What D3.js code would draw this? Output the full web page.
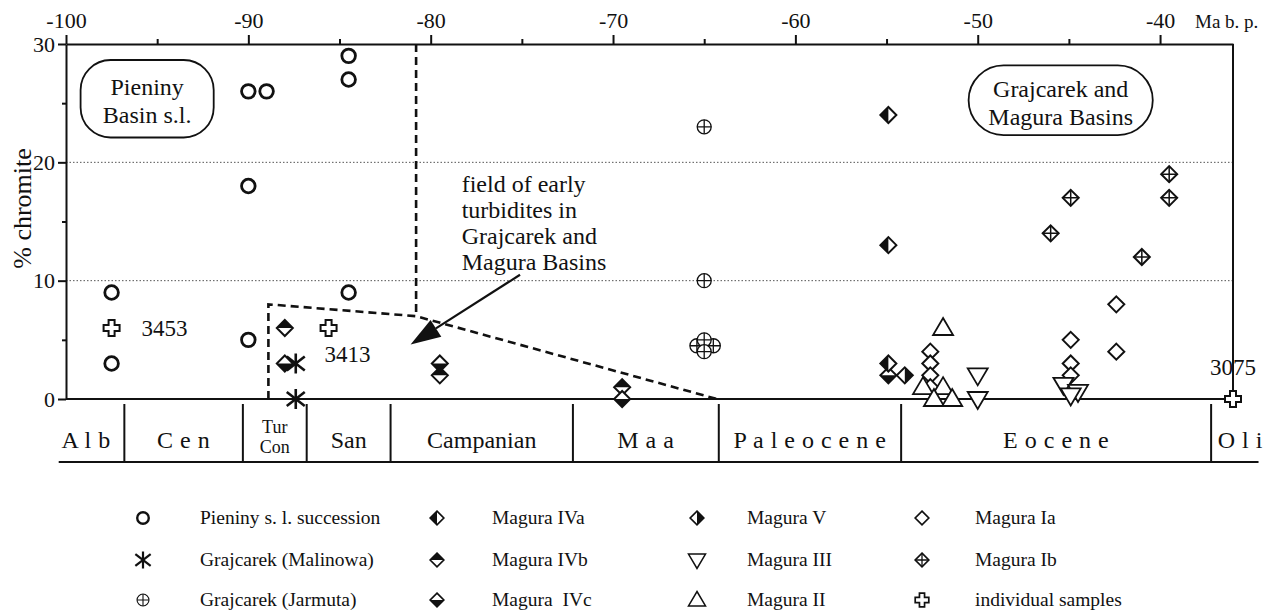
<!DOCTYPE html>
<html>
<head>
<meta charset="utf-8">
<script src="https://cdn.jsdelivr.net/npm/d3@7"></script>
<style>
body { margin: 0; background: #fff; }
text { font-family: "Liberation Serif", "Times New Roman", serif; fill: #111; }
</style>
</head>
<body>
<svg id="chart"></svg>
<script>
// ages in Ma (negative = before present), values in % chromite
var pieniny = [[-97.5, 9], [-97.5, 3], [-90, 26], [-89, 26], [-90, 18], [-90, 5],
	[-84.5, 29], [-84.5, 27], [-84.5, 9]];
var malinowa = [[-87.4, 3], [-87.4, 0]];
var jarmuta = [[-65, 23], [-65, 10], [-65.4, 4.5], [-64.5, 4.5], [-65, 5], [-65, 4]];
var maguraIVa = [[-54.9, 24], [-54.9, 13], [-54.9, 3]];
var maguraIVb = [[-88, 6], [-79.5, 2], [-69.5, 1]];
var maguraIVc = [[-88, 3], [-79.5, 3], [-69.5, 0], [-54.9, 2]];
var maguraV = [[-54, 2]];
var maguraIII = [[-50, 2], [-50, 0], [-45.3, 1.2], [-44.5, 0.6], [-44.9, 0.3]];
var maguraII = [[-51.9, 6], [-53, 1], [-51.9, 1], [-52.4, 0], [-51.4, 0]];
var maguraIa = [[-52.6, 4], [-52.6, 3], [-52.6, 2], [-52.6, 1], [-42.4, 8], [-42.4, 4],
	[-44.9, 5], [-44.9, 3], [-44.9, 2]];
var maguraIb = [[-44.9, 17], [-46, 14], [-41, 12], [-39.5, 19], [-39.5, 17]];
var individual = [[-97.5, 6, '3453'], [-85.6, 6, '3413'], [-36, 0, '3075']];

var xTicks = [-100, -90, -80, -70, -60, -50, -40];
var xMinor = [-95, -85, -75, -65, -55, -45];
var yTicks = [0, 10, 20, 30];
var yMinor = [5, 15, 25];
var gridValues = [10, 20];

var stageNames = ['A l b', 'C e n', 'Tur|Con', 'San', 'Campanian', 'M a a', 'P a l e o c e n e', 'E o c e n e', 'O l i'];
var stageBounds = [-101, -96.8, -90.3, -86.8, -82.2, -72.2, -64.2, -54.2, -37.2, -34];

// field of early turbidites outline
var fieldLine = [[-88.9, 0], [-88.9, 8], [-80.8, 7], [-64.3, 0]];
var fieldEdge = [[-80.8, 30], [-80.8, 7]];

var dims = {
	width: 1275,
	height: 613,
	left: 66,
	right: 1233,
	top: 44,
	bottom: 399
};

var svg = d3.select('#chart').attr('width', dims.width).attr('height', dims.height);

var x = d3.scaleLinear().domain([-100, -36]).range([dims.left, dims.right]);
var y = d3.scaleLinear().domain([0, 30]).range([dims.bottom, dims.top]);

// gridlines
svg.append('g').selectAll('line').data(gridValues).enter().append('line')
	.attr('x1', dims.left).attr('x2', dims.right)
	.attr('y1', d => y(d)).attr('y2', d => y(d))
	.attr('stroke', '#555').attr('stroke-width', 1).attr('stroke-dasharray', '1.5,2');

// top axis
var topAxis = svg.append('g').attr('transform', 'translate(0 ' + dims.top + ')')
	.call(d3.axisTop(x).tickValues(xTicks).tickSize(9).tickSizeOuter(0).tickFormat(d => String(d)));
svg.append('g').attr('transform', 'translate(0 ' + dims.top + ')')
	.call(d3.axisTop(x).tickValues(xMinor).tickSize(5).tickFormat(''))
	.select('.domain').remove();
topAxis.selectAll('text').attr('font-size', 22).attr('font-family', 'Liberation Serif').attr('fill', '#111').attr('dy', '-0.2em');
svg.append('text').attr('x', 1195).attr('y', 28).attr('font-size', 19).text('Ma b. p.');

// left axis
var leftAxis = svg.append('g').attr('transform', 'translate(' + dims.left + ' 0)')
	.call(d3.axisLeft(y).tickValues(yTicks).tickSize(8).tickSizeOuter(0));
svg.append('g').attr('transform', 'translate(' + dims.left + ' 0)')
	.call(d3.axisLeft(y).tickValues(yMinor).tickSize(4).tickFormat(''))
	.select('.domain').remove();
leftAxis.selectAll('text').attr('font-size', 22).attr('font-family', 'Liberation Serif').attr('fill', '#111');
svg.selectAll('.domain, .tick line').attr('stroke', '#111').attr('stroke-width', 2);

svg.append('text')
	.attr('transform', 'translate(31 ' + y(16.1) + ') rotate(-90)')
	.attr('text-anchor', 'middle').attr('font-size', 26).text('% chromite');

// right border and zero line
svg.append('line').attr('x1', dims.right).attr('x2', dims.right).attr('y1', dims.top).attr('y2', dims.bottom)
	.attr('stroke', '#111').attr('stroke-width', 2);
svg.append('line').attr('x1', dims.left).attr('x2', dims.right).attr('y1', y(0)).attr('y2', y(0))
	.attr('stroke', '#111').attr('stroke-width', 2);

// stage bar
var stageTop = dims.bottom + 5, stageBottom = dims.bottom + 63;
var stages = svg.append('g');
stages.selectAll('line.div').data(stageBounds.slice(1, -1)).enter().append('line')
	.attr('x1', d => x(d)).attr('x2', d => x(d))
	.attr('y1', stageTop).attr('y2', stageBottom)
	.attr('stroke', '#111').attr('stroke-width', 2);
stages.append('line').attr('x1', x(-100.4)).attr('x2', x(-34.6))
	.attr('y1', stageBottom).attr('y2', stageBottom)
	.attr('stroke', '#111').attr('stroke-width', 2);
stageNames.forEach(function(n, i) {
	var cx = x((stageBounds[i] + stageBounds[i + 1]) / 2);
	if (n.indexOf('|') >= 0) {
		n.split('|').forEach(function(part, j) {
			stages.append('text').attr('x', cx).attr('y', stageTop + 29 + j * 20)
				.attr('text-anchor', 'middle').attr('font-size', 18).text(part);
		});
	} else {
		stages.append('text').attr('x', cx).attr('y', stageTop + 44)
			.attr('text-anchor', 'middle').attr('font-size', 24)
			.attr('letter-spacing', n.indexOf(' ') >= 0 ? 0.5 : 0).text(n);
	}
});

// field of early turbidites
var line = d3.line().x(d => x(d[0])).y(d => y(d[1]));
[fieldLine, fieldEdge].forEach(function(l) {
	svg.append('path').attr('d', line(l)).attr('fill', 'none')
		.attr('stroke', '#111').attr('stroke-width', 2.6).attr('stroke-dasharray', '8,5');
});

// arrow
var arrowFrom = [x(-75.1), y(10.5)], arrowTo = [x(-81.1), y(4.6)];
var ang = Math.atan2(arrowTo[1] - arrowFrom[1], arrowTo[0] - arrowFrom[0]);
var headLen = 30, headW = 10;
var base = [arrowTo[0] - headLen * Math.cos(ang), arrowTo[1] - headLen * Math.sin(ang)];
svg.append('line').attr('x1', arrowFrom[0]).attr('y1', arrowFrom[1]).attr('x2', base[0]).attr('y2', base[1])
	.attr('stroke', '#111').attr('stroke-width', 2.2);
svg.append('path').attr('fill', '#111').attr('d', 'M' + arrowTo + 'L' +
	[base[0] + headW * Math.sin(ang), base[1] - headW * Math.cos(ang)] + 'L' +
	[base[0] - headW * Math.sin(ang), base[1] + headW * Math.cos(ang)] + 'Z');

var fieldText = ['field of early', 'turbidites in', 'Grajcarek and', 'Magura Basins'];
svg.append('g').selectAll('text').data(fieldText).enter().append('text')
	.attr('x', x(-78.3)).attr('y', (d, i) => y(17.5) + i * 26)
	.attr('font-size', 24).text(d => d);

// rounded basin labels
function basinLabel(x0, x1, y0, y1, r, lines) {
	var g = svg.append('g');
	g.append('rect').attr('x', x(x0)).attr('y', y(y0)).attr('width', x(x1) - x(x0)).attr('height', y(y1) - y(y0))
		.attr('rx', r).attr('ry', r).attr('fill', 'white').attr('stroke', '#111').attr('stroke-width', 1.8);
	lines.forEach(function(t, i) {
		g.append('text').attr('x', (x(x0) + x(x1)) / 2).attr('y', (y(y0) + y(y1)) / 2 - 3.5 + i * 28)
			.attr('text-anchor', 'middle').attr('font-size', 24).text(t);
	});
}
basinLabel(-99.2, -91.9, 28.65, 22.1, 30, ['Pieniny', 'Basin s.l.']);
basinLabel(-50.5, -40.4, 28.2, 22.3, 35, ['Grajcarek and', 'Magura Basins']);

// symbols
var S = 8;
var symbols = {
	pieniny: function(g) {
		g.append('circle').attr('r', 6.8).attr('fill', 'white').attr('stroke', '#111').attr('stroke-width', 2.8);
	},
	malinowa: function(g) {
		[[0, -10, 0, 10], [-9, -7, 9, 7], [-9, 7, 9, -7]].forEach(function(l) {
			g.append('line').attr('x1', l[0]).attr('y1', l[1]).attr('x2', l[2]).attr('y2', l[3])
				.attr('stroke', '#111').attr('stroke-width', 2.6);
		});
	},
	jarmuta: function(g) {
		g.append('circle').attr('r', 7).attr('fill', 'white').attr('stroke', '#111').attr('stroke-width', 1.3);
		g.append('path').attr('d', 'M-7,0H7M0,-7V7').attr('stroke', '#111').attr('stroke-width', 1.3);
	},
	maguraIVa: halfDiamond('M0,' + -S + 'L' + -S + ',0L0,' + S + 'Z'),
	maguraV: halfDiamond('M0,' + -S + 'L' + S + ',0L0,' + S + 'Z'),
	maguraIVb: halfDiamond('M' + -S + ',0L0,' + -S + 'L' + S + ',0Z'),
	maguraIVc: halfDiamond('M' + -S + ',0L0,' + S + 'L' + S + ',0Z'),
	maguraIII: function(g) {
		g.append('path').attr('d', 'M-10,-7L10,-7L0,10Z').attr('fill', 'white').attr('stroke', '#111').attr('stroke-width', 1.8);
	},
	maguraII: function(g) {
		g.append('path').attr('d', 'M0,-10L10,7L-10,7Z').attr('fill', 'white').attr('stroke', '#111').attr('stroke-width', 1.8);
	},
	maguraIa: halfDiamond(null),
	maguraIb: function(g) {
		halfDiamond(null)(g);
		g.append('path').attr('d', 'M' + -S + ',0H' + S + 'M0,' + -S + 'V' + S).attr('stroke', '#111').attr('stroke-width', 1.5);
	},
	individual: function(g) {
		g.append('path').attr('d', 'M-3,-8H3V-3H8V3H3V8H-3V3H-8V-3H-3Z')
			.attr('fill', 'white').attr('stroke', '#111').attr('stroke-width', 2);
	}
};

function halfDiamond(fillPath) {
	return function(g) {
		g.append('path').attr('d', 'M0,' + -S + 'L' + S + ',0L0,' + S + 'L' + -S + ',0Z')
			.attr('fill', 'white').attr('stroke', 'none');
		if (fillPath) g.append('path').attr('d', fillPath).attr('fill', '#111');
		g.append('path').attr('d', 'M0,' + -S + 'L' + S + ',0L0,' + S + 'L' + -S + ',0Z')
			.attr('fill', 'none').attr('stroke', '#111').attr('stroke-width', 2);
	};
}

var series = [
	['pieniny', pieniny], ['malinowa', malinowa], ['jarmuta', jarmuta],
	['maguraIVb', maguraIVb], ['maguraIVc', maguraIVc], ['maguraIVa', maguraIVa], ['maguraV', maguraV],
	['maguraIa', maguraIa], ['maguraIII', maguraIII], ['maguraII', maguraII],
	['maguraIb', maguraIb], ['individual', individual]
];

var points = svg.append('g');
series.forEach(function(s) {
	s[1].forEach(function(d) {
		var g = points.append('g').attr('transform', 'translate(' + x(d[0]) + ' ' + y(d[1]) + ')');
		symbols[s[0]](g);
	});
});

// individual sample labels
var labelOffsets = { '3453': [30, 8], '3413': [-4, 34], '3075': [-23, -24] };
points.selectAll('text.sample').data(individual).enter().append('text')
	.attr('x', d => x(d[0]) + labelOffsets[d[2]][0])
	.attr('y', d => y(d[1]) + labelOffsets[d[2]][1])
	.attr('font-size', 23).text(d => d[2]);

// legend
var legendItems = [
	['pieniny', 'Pieniny s. l. succession'], ['malinowa', 'Grajcarek (Malinowa)'], ['jarmuta', 'Grajcarek (Jarmuta)'],
	['maguraIVa', 'Magura IVa'], ['maguraIVb', 'Magura IVb'], ['maguraIVc', 'Magura  IVc'],
	['maguraV', 'Magura V'], ['maguraIII', 'Magura III'], ['maguraII', 'Magura II'],
	['maguraIa', 'Magura Ia'], ['maguraIb', 'Magura Ib'], ['individual', 'individual samples']
];
var legendSymX = [143, 437, 697, 922], legendTextX = [200, 492, 747, 975], legendRowY = [518, 560, 600];
var legend = svg.append('g');
legendItems.forEach(function(item, i) {
	var col = Math.floor(i / 3), row = i % 3;
	var g = legend.append('g').attr('transform', 'translate(' + legendSymX[col] + ' ' + legendRowY[row] + ') scale(0.85)');
	symbols[item[0]](g);
	legend.append('text').attr('x', legendTextX[col]).attr('y', legendRowY[row] + 6)
		.attr('font-size', 19.5).attr('xml:space', 'preserve').style('white-space', 'pre').text(item[1]);
});
</script>
</body>
</html>
